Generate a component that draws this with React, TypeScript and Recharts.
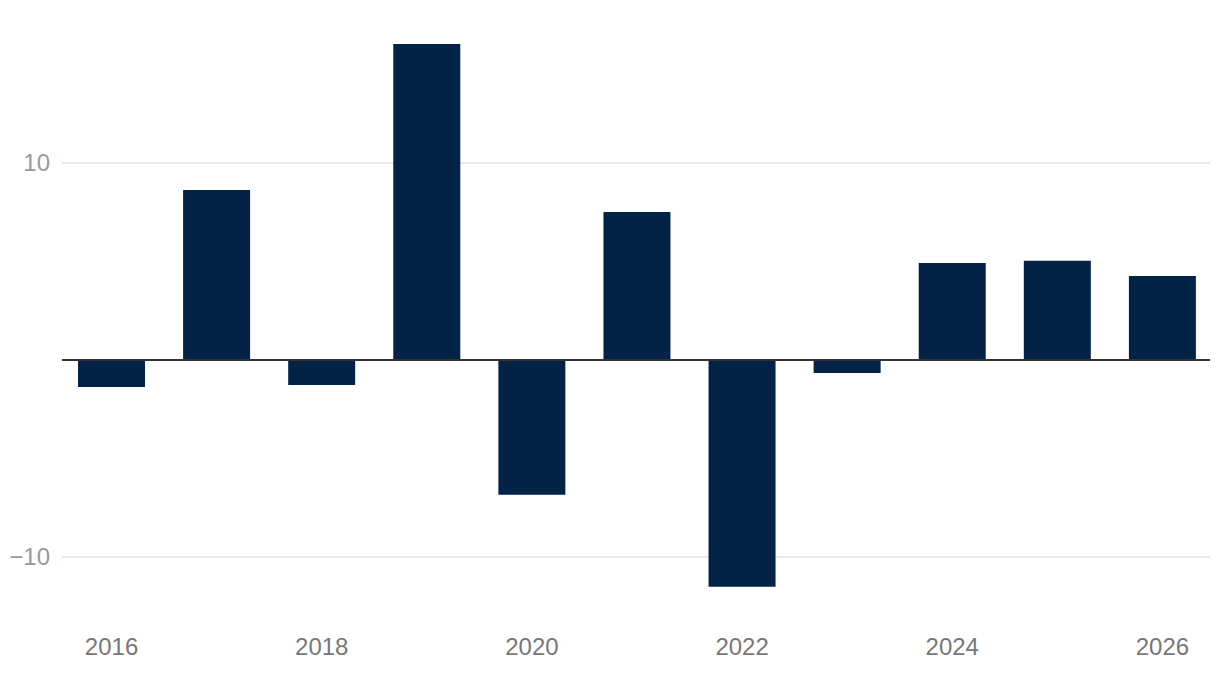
import { BarChart, Bar, XAxis, YAxis, CartesianGrid, ReferenceLine } from "recharts";

const years = ["2016", "2017", "2018", "2019", "2020", "2021", "2022", "2023", "2024", "2025", "2026"];
const values = [-1.37, 8.63, -1.27, 16.04, -6.85, 7.51, -11.52, -0.66, 4.92, 5.03, 4.26];
const yTicks = [-10, 10];
const xTicks = ["2016", "2018", "2020", "2022", "2024", "2026"];

const data = years.map((year, i) => ({ year, value: values[i] }));

const fmtY = (v: number) => (v < 0 ? `\u2212${Math.abs(v)}` : `${v}`);

export default function App() {
  return (
    <div style={{ position: "absolute", left: 0, top: 0, fontFamily: "'Liberation Sans', Arial, sans-serif" }}>
      <BarChart
        width={1220}
        height={674}
        data={data}
        margin={{ top: 25, right: 10, bottom: 0, left: 0 }}
        barSize={67}
      >
        <CartesianGrid vertical={false} horizontalValues={yTicks} stroke="#e2e2e2" strokeWidth={1.5} />
        <XAxis
          dataKey="year"
          ticks={xTicks}
          interval={0}
          axisLine={false}
          tickLine={false}
          height={58}
          tickMargin={16}
          padding={{ left: -3, right: -5 }}
          tick={{ fontSize: 24, fill: "#777" }}
        />
        <YAxis
          domain={[-13, 17]}
          ticks={yTicks}
          allowDataOverflow
          axisLine={false}
          tickLine={false}
          width={62}
          tickMargin={6}
          tickFormatter={fmtY}
          tick={{ fontSize: 24, fill: "#999" }}
        />
        <Bar dataKey="value" fill="#022346" isAnimationActive={false} />
        <ReferenceLine y={0} stroke="#333" strokeWidth={2} />
      </BarChart>
    </div>
  );
}
